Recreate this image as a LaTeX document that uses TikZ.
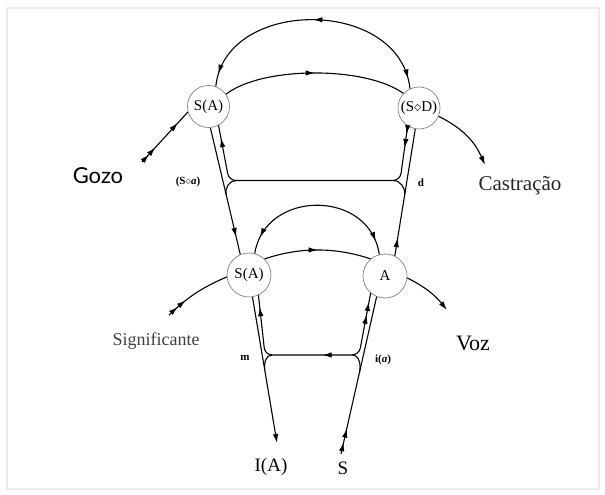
\documentclass[tikz,border=0pt]{standalone}
\usepackage{fontspec}
\setmainfont{Liberation Serif}
\newfontfamily\gozofont{Lato}
\usetikzlibrary{arrows.meta,decorations.markings,calc}

\begin{document}
\begin{tikzpicture}[x=1pt,y=1pt,
    line width=1.1pt,
    >={Latex[length=9pt,width=5.5pt]},
    place/.style={circle,draw=black!50,line width=0.7pt,inner sep=0pt,
        minimum size=#1,font=\fontsize{15}{15}\selectfont},
    place/.default=42pt,
    tag/.style={font=\fontsize{11}{11}\selectfont\bfseries},
    fwd/.style={postaction={decorate,decoration={markings,
        mark=at position #1 with {\arrow{>}}}}},
    bwd/.style={postaction={decorate,decoration={markings,
        mark=at position #1 with {\arrowreversed{>}}}}}]
% frame of the figure
\useasboundingbox (0,0) rectangle (605,495);
\draw[black!8,line width=1.2pt] (7,6) rectangle (599,487);

% the four crossing points of the graph
\node[place] (jA) at (208.5,388.5) {S(A)};
\node[place] (fant) at (419,387) {(S$\diamond$D)};
\node[place=44pt] (sA) at (249,220) {S(A)};
\node[place=44pt] (bigA) at (385,219) {A};

% texts round the graph
\node[font=\gozofont\fontsize{22}{22}\selectfont] (gozo) at (98,319) {Gozo};
\node[font=\fontsize{21}{21}\selectfont,text=black!85] (castr) at (520,309) {Castração};
\node[font=\fontsize{18}{18}\selectfont,text=black!75] (signif) at (156,154) {Significante};
\node[font=\fontsize{22}{22}\selectfont] (voz) at (473,152) {Voz};
\node[font=\fontsize{19}{19}\selectfont] (iA) at (271,28) {I(A)};
\node[font=\fontsize{19}{19}\selectfont] (subj) at (343,27) {S};
\node[tag] (sa) at (188,313) {(S$\diamond$\textit{a})};
\node[tag] (dd) at (421,312) {d};
\node[tag] (mm) at (245,137) {m};
\node[tag] (ia) at (383,135) {i(\textit{a})};

% free ends and corners
\coordinate (gz) at (142,333);
\coordinate (sg) at (169,180);
\coordinate (cs) at (485,330);
\coordinate (vz) at (447,185);
\coordinate (iAtip) at (277,52);
\coordinate (sbot) at (341,41);
\coordinate (dl) at (229,314.5);
\coordinate (dr) at (400,314.5);
\coordinate (ml) at (265,140);
\coordinate (mr) at (359,140);

% upper chain
\draw[fwd=0.15,fwd=0.29,fwd=0.78] (gz) -- (jA.195);
\draw[fwd=0.5] (jA.35) .. controls (262,429) and (366,429) .. (fant.137);
\draw[->] (fant.-23) to[bend left=20] (cs);
\draw[bwd=0.05,bwd=0.5,fwd=0.96] (jA.70) .. controls (225,498) and (400,498) .. (fant.115);

% lower chain
\draw[fwd=0.17,fwd=0.32] (sg) to[bend left=10] (sA.185);
\draw[fwd=0.5] (sA.46) .. controls (300,248) and (335,248) .. (bigA.130);
\draw[->] (bigA.-5) to[bend left=12] (vz);
\draw[bwd=0.1,fwd=0.92] (sA.75) .. controls (265,306) and (370,306) .. (bigA.105);

% upper verticals and the line of desire
\draw[fwd=-18pt] (jA.-85) -- (sA.113);
\draw[bwd=-18pt] (fant.-100) -- (bigA.64);
\draw[rounded corners=7pt,bwd=13pt,bwd=-8pt,bwd=-22pt]
    (jA.-62) -- (dl) -- (dr) -- (fant.-122);
\draw ([xshift=7pt]dl) to[out=180,in=104] ($(jA.-85)!0.53!(sA.113)$);
\draw ([xshift=-7pt]dr) to[out=0,in=81] ($(fant.-100)!0.52!(bigA.64)$);

% lower verticals and the imaginary line
\draw[->] (sA.-81) -- (iAtip);
\draw[fwd=12pt,fwd=26pt] (sbot) -- (bigA.-112);
\draw[rounded corners=7pt,bwd=12pt,bwd=115pt,fwd=-9pt,fwd=-22pt]
    (sA.-65) -- (ml) -- (mr) -- (bigA.-130);
\draw ([xshift=7pt]ml) to[out=180,in=99] ($(sA.-81)!0.5!(iAtip)$);
\draw ([xshift=-7pt]mr) to[out=0,in=77] ($(sbot)!0.52!(bigA.-112)$);
\end{tikzpicture}
\end{document}
